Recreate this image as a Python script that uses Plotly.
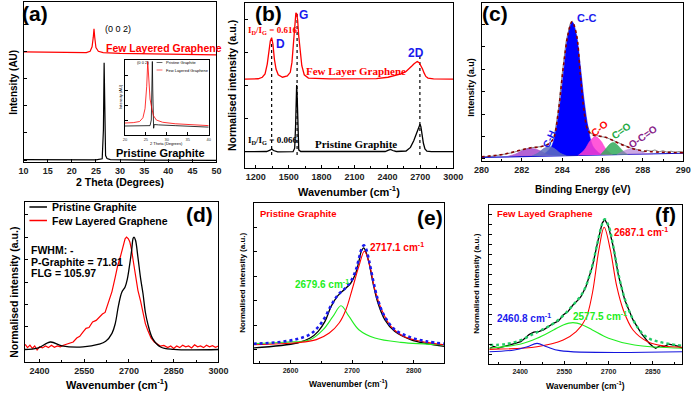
import plotly.graph_objects as go

W, H = 700, 393
FONT = "Liberation Sans, Arial, sans-serif"
SERIF = "Liberation Serif, Times New Roman, serif"

# ---------------- (a) XRD ----------------
xrd_flg_x = [10, 15, 20, 23, 23.8, 24.2, 24.45, 24.6, 24.75, 25.0, 25.5, 26.5, 30, 35, 40, 45, 50]
xrd_flg_y = [68.8, 68.5, 68.3, 68.4, 69.2, 72, 78, 83.2, 78, 71.5, 69.2, 68.4, 67.9, 67.6, 67.4, 67.1, 66.9]
xrd_pg_x = [10, 20, 25, 26.3, 26.55, 26.7, 26.85, 27.0, 27.3, 28, 35, 50]
xrd_pg_y = [1.5, 1.3, 1.3, 2, 20, 62, 20, 4, 2.2, 1.5, 1.2, 1.0]
# inset
ins_pg_x = [20, 24, 26.0, 26.3, 26.45, 26.55, 26.65, 26.75, 26.85, 27.0, 28, 32, 36, 40]
ins_pg_y = [0.12, 0.12, 0.125, 0.2, 0.6, 0.98, 0.6, 0.15, 0.09, 0.14, 0.135, 0.125, 0.115, 0.105]
ins_flg_x = [20, 22, 23.5, 24.3, 24.8, 25.2, 25.45, 25.7, 26.0, 26.4, 26.8, 27.5, 29, 32, 36, 40]
ins_flg_y = [0.16, 0.165, 0.18, 0.23, 0.35, 0.65, 0.98, 0.7, 0.48, 0.36, 0.26, 0.2, 0.17, 0.15, 0.135, 0.125]

# ---------------- (b) Raman ----------------
rb_flg_x = [1100, 1222, 1260, 1285, 1305, 1320, 1333, 1345, 1357, 1370, 1385, 1405, 1444, 1488, 1515, 1530,
            1545, 1556, 1566, 1574, 1582, 1592, 1605, 1620, 1642, 1680, 1873, 2168, 2300, 2405, 2480, 2524,
            2570, 2598, 2625, 2643, 2660, 2672, 2690, 2705, 2720, 2735, 2750, 2770, 2820, 3000]
rb_flg_y = [0.539, 0.541, 0.55, 0.57, 0.63, 0.71, 0.77, 0.79, 0.75, 0.66, 0.6, 0.565, 0.55, 0.558, 0.58, 0.64,
            0.76, 0.877, 0.94, 0.935, 0.897, 0.8, 0.69, 0.62, 0.565, 0.545, 0.54, 0.54, 0.542, 0.55, 0.56, 0.57,
            0.585, 0.6, 0.62, 0.632, 0.642, 0.645, 0.638, 0.622, 0.6, 0.575, 0.555, 0.545, 0.54, 0.539]
rb_pg_x = [1100, 1300, 1330, 1346, 1362, 1400, 1540, 1555, 1563, 1569, 1573, 1578, 1584, 1592, 1610, 1800,
           2100, 2380, 2410, 2429, 2448, 2480, 2570, 2610, 2640, 2665, 2680, 2690, 2697, 2705, 2715, 2728,
           2742, 2760, 2800, 3000]
rb_pg_y = [0.099, 0.1, 0.108, 0.115, 0.106, 0.098, 0.099, 0.12, 0.25, 0.45, 0.503, 0.43, 0.22, 0.11, 0.1, 0.099,
           0.099, 0.1, 0.108, 0.113, 0.106, 0.1, 0.103, 0.125, 0.165, 0.205, 0.232, 0.255, 0.265, 0.25, 0.205, 0.15,
           0.115, 0.102, 0.099, 0.099]
band_pos = [1345, 1577, 2696]
band_top = [0.776, 0.938, 0.675]
band_bottom = 0.079

# ---------------- (c) XPS C1s ----------------
xps_raw_x = [280, 280.5, 281, 281.5, 282, 282.5, 283, 283.4, 283.6, 283.8, 284.0, 284.2, 284.4, 284.5, 284.6,
             284.8, 285.0, 285.2, 285.4, 285.8, 286.2, 286.6, 287.0, 287.4, 287.8, 288.0, 288.2, 288.4, 288.6,
             288.8, 289.0, 289.2, 289.4, 289.6, 289.8, 290]
xps_raw_y = [0.025, 0.03, 0.04, 0.052, 0.07, 0.084, 0.092, 0.11, 0.15, 0.31, 0.55, 0.76, 0.87, 0.88, 0.86,
             0.7, 0.41, 0.24, 0.175, 0.158, 0.148, 0.125, 0.1, 0.082, 0.07, 0.058, 0.068, 0.062, 0.07,
             0.058, 0.065, 0.056, 0.062, 0.055, 0.06, 0.055]
xps_env_x = [280.0, 281.16, 281.97, 282.45, 282.93, 283.33, 283.57, 283.82, 284.06, 284.3, 284.49, 284.7, 284.91,
             285.1, 285.27, 285.51, 285.83, 286.15, 286.47, 286.8, 287.28, 287.76, 288.41, 290.0]
xps_env_y = [0.027, 0.044, 0.07, 0.084, 0.09, 0.108, 0.144, 0.323, 0.597, 0.808, 0.882, 0.808, 0.534,
             0.302, 0.196, 0.165, 0.158, 0.15, 0.133, 0.112, 0.087, 0.07, 0.059, 0.053]
xps_base_x = [280, 290]
xps_base_y = [0.023, 0.049]
cc_x = [282.9, 283.1, 283.3, 283.5, 283.7, 283.9, 284.1, 284.3, 284.5, 284.7, 284.9, 285.1, 285.3, 285.5, 285.7, 285.9, 286.1]
cc_y = [0.036, 0.045, 0.065, 0.1, 0.2, 0.37, 0.6, 0.8, 0.88, 0.8, 0.6, 0.37, 0.2, 0.1, 0.065, 0.045, 0.04]
c1_x = [281.3, 281.7, 282.0, 282.3, 282.6, 282.9, 283.2, 283.5]
c1_y = [0.03, 0.045, 0.065, 0.078, 0.078, 0.065, 0.045, 0.033]
ch_x = [282.5, 282.8, 283.1, 283.35, 283.6, 283.9, 284.2]
ch_y = [0.032, 0.05, 0.08, 0.092, 0.08, 0.05, 0.034]
co_x = [284.8, 285.1, 285.4, 285.65, 285.9, 286.2, 286.5]
co_y = [0.036, 0.07, 0.13, 0.155, 0.13, 0.07, 0.04]
cdo_x = [285.9, 286.15, 286.4, 286.55, 286.75, 287.0, 287.25]
cdo_y = [0.04, 0.075, 0.11, 0.117, 0.1, 0.065, 0.04]
occ_x = [286.7, 287.0, 287.3, 287.6, 287.9, 288.2, 288.5]
occ_y = [0.04, 0.06, 0.075, 0.075, 0.06, 0.048, 0.042]

# ---------------- (d) 2D band comparison ----------------
d_pg_x = [2350, 2393, 2437, 2475, 2546, 2600, 2622, 2643, 2654, 2665, 2676, 2687, 2695, 2702, 2709, 2714,
          2717, 2722, 2730, 2739, 2747, 2755, 2763, 2779, 2806, 2850, 3000]
d_pg_y = [0.078, 0.086, 0.125, 0.101, 0.094, 0.111, 0.129, 0.179, 0.24, 0.354, 0.436, 0.469, 0.523, 0.604,
          0.698, 0.773, 0.781, 0.761, 0.656, 0.523, 0.428, 0.311, 0.24, 0.148, 0.094, 0.079, 0.078]
d_flg_x = [2352, 2360, 2368, 2376, 2384, 2392, 2400, 2410, 2420, 2430, 2440, 2450, 2460, 2470, 2480, 2490,
           2500, 2513, 2525, 2535, 2545, 2556, 2566, 2578, 2590, 2600, 2611, 2620, 2632, 2643, 2654, 2662,
           2671, 2680, 2687, 2692, 2698, 2703, 2709, 2714, 2722, 2730, 2739, 2747, 2755, 2763, 2774, 2785,
           2795, 2805, 2817, 2830, 2840, 2850, 2860, 2870, 2880, 2890, 2900, 2910, 2920, 2930, 2940, 2950,
           2960, 2970, 2980, 2990, 3000]
d_flg_y = [0.11, 0.09, 0.105, 0.085, 0.1, 0.075, 0.095, 0.088, 0.1, 0.09, 0.105, 0.092, 0.1, 0.095, 0.105, 0.11,
           0.115, 0.125, 0.15, 0.16, 0.185, 0.21, 0.215, 0.25, 0.26, 0.28, 0.3, 0.31, 0.375, 0.44, 0.53, 0.6,
           0.656, 0.72, 0.77, 0.781, 0.77, 0.75, 0.7, 0.636, 0.54, 0.448, 0.38, 0.3, 0.24, 0.198, 0.15, 0.125,
           0.11, 0.1, 0.104, 0.09, 0.1, 0.085, 0.1, 0.09, 0.105, 0.095, 0.1, 0.088, 0.108, 0.095, 0.1, 0.09,
           0.105, 0.095, 0.102, 0.092, 0.1]

# ---------------- (e) Pristine graphite 2D fit ----------------
e_exp_x = [2540, 2611, 2632, 2645, 2656, 2666, 2677, 2687, 2698, 2706, 2711, 2715, 2719, 2722, 2727, 2734,
           2742, 2753, 2769, 2795, 2821, 2850]
e_exp_y = [0.094, 0.125, 0.156, 0.198, 0.26, 0.354, 0.421, 0.458, 0.5, 0.5625, 0.635, 0.698, 0.719, 0.698,
           0.635, 0.5, 0.375, 0.271, 0.198, 0.146, 0.121, 0.104]
e_fit_x = [2540, 2580, 2611, 2632, 2645, 2656, 2666, 2677, 2687, 2698, 2706, 2711, 2715, 2719, 2722, 2727,
           2734, 2742, 2753, 2769, 2795, 2821, 2850]
e_fit_y = [0.12, 0.13, 0.15, 0.18, 0.225, 0.285, 0.36, 0.425, 0.46, 0.51, 0.58, 0.65, 0.71, 0.735, 0.72, 0.65,
           0.52, 0.395, 0.29, 0.21, 0.16, 0.135, 0.12]
e_red_x = [2540, 2611, 2642, 2663, 2679, 2690, 2700, 2711, 2720, 2729, 2737, 2748, 2763, 2784, 2821, 2850]
e_red_y = [0.114, 0.127, 0.146, 0.1875, 0.25, 0.333, 0.458, 0.604, 0.698, 0.604, 0.458, 0.333, 0.229, 0.166, 0.129, 0.114]
e_grn_x = [2540, 2590, 2632, 2653, 2669, 2682, 2695, 2711, 2737, 2779, 2850]
e_grn_y = [0.121, 0.13, 0.146, 0.208, 0.291, 0.358, 0.291, 0.208, 0.156, 0.129, 0.114]

# ---------------- (f) Few layer graphene 2D fit ----------------
f_exp_x = [2297, 2310, 2325, 2347, 2365, 2380, 2402, 2418, 2430, 2446, 2465, 2479, 2495, 2513, 2530, 2546,
           2562, 2579, 2595, 2606, 2623, 2645, 2662, 2678, 2687, 2700, 2717, 2733, 2755, 2783, 2811, 2838,
           2850, 2860, 2875, 2888, 2905, 2921, 2935, 2951]
f_exp_y = [0.099, 0.11, 0.1, 0.109, 0.12, 0.128, 0.14, 0.165, 0.185, 0.2, 0.205, 0.215, 0.235, 0.256, 0.27, 0.308,
           0.33, 0.371, 0.4, 0.423, 0.486, 0.612, 0.759, 0.885, 0.91, 0.864, 0.728, 0.56, 0.403, 0.277, 0.193, 0.13,
           0.11, 0.099, 0.115, 0.109, 0.125, 0.119, 0.112, 0.099]
f_fit_x = [2297, 2350, 2402, 2446, 2479, 2513, 2546, 2579, 2606, 2623, 2645, 2662, 2678, 2687, 2700, 2717,
           2733, 2755, 2783, 2811, 2838, 2870, 2910, 2950]
f_fit_y = [0.12, 0.125, 0.15, 0.19, 0.22, 0.255, 0.305, 0.37, 0.43, 0.49, 0.62, 0.76, 0.88, 0.91, 0.87, 0.73,
           0.57, 0.41, 0.28, 0.2, 0.16, 0.14, 0.125, 0.115]
f_red_x = [2295, 2457, 2546, 2590, 2623, 2645, 2667, 2685, 2706, 2728, 2750, 2783, 2833, 2888, 2951]
f_red_y = [0.092, 0.109, 0.151, 0.203, 0.287, 0.445, 0.717, 0.86, 0.717, 0.486, 0.34, 0.214, 0.14, 0.113, 0.105]
f_grn_x = [2295, 2402, 2457, 2513, 2546, 2579, 2612, 2645, 2700, 2788, 2951]
f_grn_y = [0.099, 0.126, 0.162, 0.214, 0.245, 0.26, 0.245, 0.214, 0.162, 0.119, 0.099]
f_blu_x = [2295, 2380, 2424, 2457, 2490, 2535, 2950]
f_blu_y = [0.077, 0.088, 0.109, 0.13, 0.109, 0.084, 0.077]

# panel boxes in pixels: (left, right, top, bottom)
boxes = {
    "": (16, 214, 2, 162),
    "2": (243, 457, 3, 168),
    "3": (486, 693, 3, 161),
    "4": (17, 216, 202, 362),
    "5": (252, 448, 203, 363),
    "6": (494, 692, 205, 364),
    "7": (120, 206, 60, 135),
}

fig = go.Figure()


def curve(x, y, ax, color, width=1.2, dash=None, shape="linear", **kw):
    fig.add_trace(go.Scatter(x=x, y=y, xaxis="x" + ax, yaxis="y" + ax, mode="lines",
                             line=dict(color=color, width=width, dash=dash, shape=shape),
                             showlegend=False, hoverinfo="skip", **kw))


# (a)
curve(xrd_flg_x, xrd_flg_y, "", "#ff0000", 1.2)
curve(xrd_pg_x, xrd_pg_y, "", "#000000", 1.2)
curve(ins_pg_x, ins_pg_y, "7", "#000000", 0.8)
curve(ins_flg_x, ins_flg_y, "7", "#ff0000", 0.8)
# (b)
for xp, yt in zip(band_pos, band_top):
    curve([xp, xp], [band_bottom, yt], "2", "#000000", 1.2, dash="dot")
curve(rb_flg_x, rb_flg_y, "2", "#ff0000", 1.3)
curve(rb_pg_x, rb_pg_y, "2", "#000000", 1.3)
# (c)
curve(xps_raw_x, xps_raw_y, "3", "#888888", 1.0)
curve(xps_base_x, xps_base_y, "3", "#1010cc", 1.2)
for cx, cy, fc in [(cc_x, cc_y, "#0000ff"), (c1_x, c1_y, "rgba(160,60,200,0.8)"),
                   (ch_x, ch_y, "rgba(95,110,190,0.85)"), (co_x, co_y, "rgba(255,60,210,0.85)"),
                   (cdo_x, cdo_y, "rgba(50,170,90,0.85)"), (occ_x, occ_y, "rgba(170,110,210,0.6)")]:
    curve(cx, cy, "3", fc, 0.6, shape="spline", fill="toself", fillcolor=fc)
curve(xps_env_x, xps_env_y, "3", "#8b0000", 1.6, dash="dot", shape="spline")
# (d)
curve(d_flg_x, d_flg_y, "4", "#ff0000", 1.2)
curve(d_pg_x, d_pg_y, "4", "#000000", 1.3, shape="spline")
# (e)
curve(e_exp_x, e_exp_y, "5", "#000000", 1.3, shape="spline")
curve(e_grn_x, e_grn_y, "5", "#22ee22", 1.1, shape="spline")
curve(e_red_x, e_red_y, "5", "#ff0000", 1.1, shape="spline")
curve(e_fit_x, e_fit_y, "5", "#1a1aee", 2.6, dash="dot", shape="spline")
# (f)
curve(f_exp_x, f_exp_y, "6", "#000000", 1.3)
curve(f_fit_x, f_fit_y, "6", "#22cc66", 2.4, dash="dot", shape="spline")
curve(f_grn_x, f_grn_y, "6", "#22ee22", 1.1, shape="spline")
curve(f_red_x, f_red_y, "6", "#ff0000", 1.1, shape="spline")
curve(f_blu_x, f_blu_y, "6", "#1515dd", 1.1, shape="spline")

tickfont = dict(family=FONT, size=9, color="#222", weight="bold")
small_tickfont = dict(family=FONT, size=7, color="#222", weight="bold")


def axis_pair(key, xr, yr, xdtick, ydtick, ytick0, xminor=None, tf=tickfont, lw=1.2):
    l, r, t, b = boxes[key]
    common = dict(showline=True, linecolor="black", linewidth=lw, mirror=True, ticks="inside",
                  ticklen=3, tickcolor="black", showgrid=False, zeroline=False, fixedrange=True)
    xa = dict(domain=[l / W, r / W], range=xr, anchor="y" + key, dtick=xdtick, tickfont=tf, **common)
    if xminor:
        xa["minor"] = dict(ticks="inside", ticklen=2, dtick=xminor, tickcolor="black")
    ya = dict(domain=[1 - b / H, 1 - t / H], range=yr, anchor="x" + key, dtick=ydtick, tick0=ytick0,
              showticklabels=False, **common)
    return xa, ya


layout = {}
specs = {
    "": ([10, 50], [0, 100], 5, 16.9, 1.25, None),
    "2": ([1100, 3000], [0, 1], 300, 0.2, 0.1, 150),
    "3": ([280, 290], [0, 1], 2, 0.142, 0.013, 1),
    "4": ([2350, 3000], [0, 1], 150, 0.14, 0.08, 75),
    "5": ([2540, 2850], [0, 1], 100, 0.153, 0.083, 50),
    "6": ([2295, 2950], [0, 1], 150, 0.0625, 0.0, 75),
    "7": ([20, 40], [0, 1], 5, 0.2, 0.0, None),
}
for key, (xr, yr, xd, yd, y0, xm) in specs.items():
    tf = tickfont
    lw = 1.2
    if key in ("5", "6"):
        tf = small_tickfont
    if key == "7":
        tf = dict(family=FONT, size=4, color="#333")
        lw = 0.7
    xa, ya = axis_pair(key, xr, yr, xd, yd, y0, xm, tf, lw=lw)
    layout["xaxis" + key] = xa
    layout["yaxis" + key] = ya


def note(txt, px, py, size, color="black", bold=True, family=FONT, angle=0, xanchor="center"):
    return dict(text=txt, x=px / W, y=1 - py / H, xref="paper", yref="paper", showarrow=False,
                textangle=angle, xanchor=xanchor, yanchor="middle",
                font=dict(family=family, size=size, color=color, weight="bold" if bold else "normal"))


wn = "Wavenumber (cm<sup>-1</sup>)"
ann = [
    # (a)
    note("(a)", 28, 14, 21),
    note("(0 0 2)", 113, 29, 9, bold=False),
    note("Few Layered Graphene", 160, 48, 10.5, "#ff0000"),
    note("Pristine Graphite", 157, 153, 11),
    note("2 Theta (Degrees)", 115, 182, 10.5),
    note("Intensity (AU)", 6, 82, 10, angle=-90),
    note("(0 0 2)", 139, 62.5, 4, bold=False),
    note("Pristine Graphite", 160, 62.5, 4, bold=False, xanchor="left"),
    note("Few Layered Graphene", 160, 70, 4, bold=False, xanchor="left"),
    note("2 Theta (Degrees)", 163, 143, 4, bold=False),
    note("Intensity (AU)", 115, 97, 4, bold=False, angle=-90),
    # (b)
    note("(b)", 267, 13, 21),
    note("G", 303, 15, 12, "#1a1aee"),
    note("D", 280, 44, 12, "#1a1aee"),
    note("2D", 419, 53, 12, "#1a1aee"),
    note("I<sub>D</sub>/I<sub>G</sub> = 0.616", 244, 31, 9, "#ff0000", family=SERIF, xanchor="left"),
    note("Few Layer Graphene", 357, 71, 11, "#ff0000", family=SERIF),
    note("I<sub>D</sub>/I<sub>G</sub> = 0.066", 244, 140, 9, family=SERIF, xanchor="left"),
    note("Pristine Graphite", 357, 144, 11, family=SERIF),
    note(wn, 350, 191, 11),
    note("Normalised intensity (a.u.)", 230, 86, 10.5, angle=-90),
    # (c)
    note("(c)", 500, 14, 21),
    note("C-C", 594, 18, 11, "#1a1aee"),
    note("C-H", 555, 139, 10, "#1a1aee", angle=-65),
    note("C-O", 607, 128, 10, "#ff0000", angle=-40),
    note("C=O", 630, 131, 10, "#22aa44", angle=-35),
    note("O-C=O", 652, 137, 10, "#882288", angle=-35),
    note("Binding Energy (eV)", 590, 189, 10),
    note("Intensity (a.u)", 475, 87, 9, angle=-90),
    # (d)
    note("(d)", 197, 215, 21),
    note("Pristine Graphite", 43, 207, 10.5, xanchor="left"),
    note("Few Layered Graphene", 43, 220.5, 10.5, xanchor="left"),
    note("FWHM: -", 22, 250, 10.5, xanchor="left"),
    note("P-Graphite = 71.81", 22, 261.7, 10.5, xanchor="left"),
    note("FLG = 105.97", 22, 273.3, 10.5, xanchor="left"),
    note(wn, 112, 384, 11),
    note("Normalised intensity (a.u.)", 6, 292, 10.5, angle=-90),
    # (e)
    note("(e)", 433, 217, 21),
    note("Pristine Graphite", 257, 213, 9.5, "#ff0000", xanchor="left"),
    note("2717.1 cm<sup>-1</sup>", 370, 247, 10, "#ff0000", xanchor="left"),
    note("2679.6 cm<sup>-1</sup>", 293, 284, 10, "#22ee22", xanchor="left"),
    note(wn, 349, 383, 8.5),
    note("Normalised intensity (a.u.)", 240, 283, 8, angle=-90),
    # (f)
    note("(f)", 675, 215, 21),
    note("Few Layed Graphene", 500, 213, 9.5, "#ff0000", xanchor="left"),
    note("2687.1 cm<sup>-1</sup>", 620, 232, 10, "#ff0000", xanchor="left"),
    note("2577.5 cm<sup>-1</sup>", 578, 316, 10, "#22ee22", xanchor="left"),
    note("2460.8 cm<sup>-1</sup>", 500, 318, 10, "#1a1aee", xanchor="left"),
    note(wn, 593, 385, 8.5),
    note("Normalised intensity (a.u.)", 480, 284, 8, angle=-90),
]

# legend keys drawn as short line shapes
shapes = []
for px0, px1, py, col, w in [(22, 40, 207, "black", 1.5), (22, 40, 220.5, "#ff0000", 1.5),
                             (152.5, 158.5, 62.5, "black", 0.6), (152.5, 158.5, 70, "#ff0000", 0.6)]:
    shapes.append(dict(type="line", xref="paper", yref="paper", x0=px0 / W, x1=px1 / W,
                       y0=1 - py / H, y1=1 - py / H, line=dict(color=col, width=w)))

fig.update_layout(
    width=W, height=H, margin=dict(l=0, r=0, t=0, b=0),
    paper_bgcolor="white", plot_bgcolor="white", showlegend=False,
    annotations=ann, shapes=shapes, **layout,
)

# the page body has a default margin; remove it so the figure sits at the window origin
fig.write_html("out.html", config={"displayModeBar": False},
               post_script="document.body.style.margin='0';")
